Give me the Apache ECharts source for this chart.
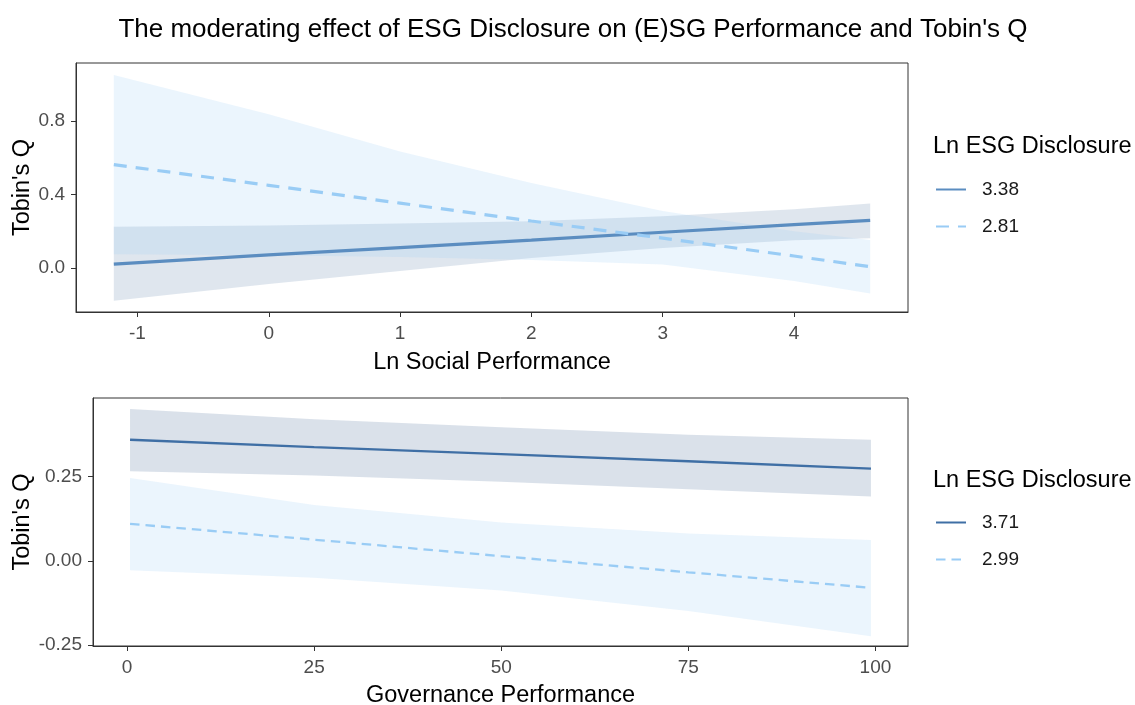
<!DOCTYPE html>
<html><head><meta charset="utf-8">
<script src="https://cdn.jsdelivr.net/npm/echarts@6/dist/echarts.min.js"></script>
<style>html,body{margin:0;padding:0;background:#fff}#c{width:1135px;height:705px}</style>
</head><body><div id="c"></div>
<script>
// ---------- Top panel: Ln Social Performance ----------
const socialX      = [-1.18, 0, 1, 2, 3, 4, 4.58];
const social338    = [0.022, 0.072, 0.112, 0.152, 0.195, 0.236, 0.26];
const social338Lo  = [-0.177, -0.086, -0.015, 0.055, 0.11, 0.152, 0.162];
const social338Hi  = [0.225, 0.232, 0.242, 0.255, 0.282, 0.32, 0.351];
const social281    = [0.562, 0.45, 0.353, 0.256, 0.163, 0.066, 0.008];
const social281Lo  = [0.076, 0.07, 0.061, 0.045, 0.02, -0.07, -0.137];
const social281Hi  = [1.049, 0.836, 0.634, 0.463, 0.31, 0.2, 0.153];
const socialXTicks = [-1, 0, 1, 2, 3, 4];
const socialYTicks = [0, 0.4, 0.8];

// ---------- Bottom panel: Governance Performance ----------
const govX         = [0.4, 25, 50, 75, 99.4];
const gov371       = [0.36, 0.338, 0.317, 0.296, 0.274];
const gov371Lo     = [0.266, 0.254, 0.235, 0.213, 0.191];
const gov371Hi     = [0.451, 0.421, 0.397, 0.375, 0.36];
const gov299       = [0.11, 0.063, 0.014, -0.034, -0.08];
const gov299Lo     = [-0.028, -0.05, -0.088, -0.149, -0.224];
const gov299Hi     = [0.246, 0.166, 0.114, 0.081, 0.062];
const govXTicks    = [0, 25, 50, 75, 100];
const govYTicks    = [-0.25, 0, 0.25];

const FONT = "'Liberation Sans', Arial, sans-serif";
const chart = echarts.init(document.getElementById('c'));

function band(name, xs, lo, hi, color, idx) {
  return {
    type: 'custom', name: name, xAxisIndex: idx, yAxisIndex: idx, silent: true, z: 1,
    data: xs.map((x, i) => [x, lo[i], hi[i]]),
    encode: { x: 0, y: [1, 2] },
    renderItem: function (params, api) {
      if (params.dataIndex !== 0) return null;
      const pts = [];
      for (let i = 0; i < xs.length; i++) pts.push(api.coord([xs[i], hi[i]]));
      for (let i = xs.length - 1; i >= 0; i--) pts.push(api.coord([xs[i], lo[i]]));
      return { type: 'polygon', shape: { points: pts }, style: { fill: color } };
    }
  };
}
function line(name, xs, ys, color, width, dash, idx) {
  return {
    type: 'line', name: name, xAxisIndex: idx, yAxisIndex: idx, z: 3,
    data: xs.map((x, i) => [x, ys[i]]),
    symbol: 'none', showSymbol: false, silent: true,
    lineStyle: { color: color, width: width, type: dash || 'solid' },
    itemStyle: { color: color }
  };
}
function xAxis(idx, min, max, ticks, name, gap) {
  return {
    type: 'value', gridIndex: idx, min: min, max: max,
    axisLine: { show: true, onZero: false, lineStyle: { color: '#333', width: 1 } },
    axisTick: { show: true, length: 5, customValues: ticks, lineStyle: { color: '#333' } },
    axisLabel: { customValues: ticks, margin: 12, color: '#4D4D4D', fontSize: 19, fontFamily: FONT,
                 formatter: v => String(v) },
    splitLine: { show: false },
    name: name, nameLocation: 'middle', nameGap: gap, nameMoveOverlap: false,
    nameTextStyle: { fontSize: 23.5, color: '#000', fontFamily: FONT }
  };
}
function yAxis(idx, min, max, ticks, dec, gap) {
  return {
    type: 'value', gridIndex: idx, min: min, max: max,
    axisLine: { show: true, onZero: false, lineStyle: { color: '#333', width: 1 } },
    axisTick: { show: true, length: 5, customValues: ticks, lineStyle: { color: '#333' } },
    axisLabel: { customValues: ticks, margin: 11, color: '#4D4D4D', fontSize: 19, fontFamily: FONT,
                 formatter: v => v.toFixed(dec) },
    splitLine: { show: false },
    name: "Tobin's Q", nameLocation: 'middle', nameGap: gap, nameMoveOverlap: false,
    nameTextStyle: { fontSize: 23.5, color: '#000', fontFamily: FONT }
  };
}
const legendBase = {
  orient: 'vertical', itemWidth: 30, itemHeight: 14, itemGap: 18, selectedMode: false,
  itemStyle: { color: 'transparent', borderWidth: 0, opacity: 0 },
  textStyle: { fontSize: 19, color: '#1a1a1a', fontFamily: FONT, padding: [0, 0, 0, 11] }
};

chart.setOption({
  animation: false,
  backgroundColor: '#fff',
  graphic: [
    { type: 'text', x: 573, y: 30, style: { text: "The moderating effect of ESG Disclosure on (E)SG Performance and Tobin's Q",
      textAlign: 'center', textVerticalAlign: 'middle', font: "26px " + FONT, fill: '#000' } },
    { type: 'text', x: 933, y: 147, style: { text: 'Ln ESG Disclosure', textAlign: 'left', textVerticalAlign: 'middle',
      font: "23.5px " + FONT, fill: '#000' } },
    { type: 'text', x: 933, y: 481, style: { text: 'Ln ESG Disclosure', textAlign: 'left', textVerticalAlign: 'middle',
      font: "23.5px " + FONT, fill: '#000' } }
  ],
  grid: [
    { left: 76, top: 63, width: 832, height: 249, show: true, borderColor: '#333', borderWidth: 1,
      backgroundColor: 'transparent', containLabel: false, outerBoundsMode: 'none' },
    { left: 93, top: 398, width: 815, height: 248, show: true, borderColor: '#333', borderWidth: 1,
      backgroundColor: 'transparent', containLabel: false, outerBoundsMode: 'none' }
  ],
  xAxis: [
    xAxis(0, -1.468, 4.868, socialXTicks, 'Ln Social Performance', 39),
    xAxis(1, -4.55, 104.35, govXTicks, 'Governance Performance', 38)
  ],
  yAxis: [
    yAxis(0, -0.238, 1.114, socialYTicks, 1, 41),
    yAxis(1, -0.253, 0.484, govYTicks, 2, 58)
  ],
  legend: [
    Object.assign({}, legendBase, { data: ['3.38', '2.81'], left: 930, top: 175 }),
    Object.assign({}, legendBase, { data: ['3.71', '2.99'], left: 930, top: 508 })
  ],
  series: [
    band('band338', socialX, social338Lo, social338Hi, 'rgba(80,115,160,0.18)', 0),
    band('band281', socialX, social281Lo, social281Hi, 'rgba(153,204,245,0.2)', 0),
    line('3.38', socialX, social338, '#5B8DC0', 3.2, null, 0),
    line('2.81', socialX, social281, '#99CCF5', 3.2, [13, 9], 0),
    band('band371', govX, gov371Lo, gov371Hi, 'rgba(70,105,150,0.2)', 1),
    band('band299', govX, gov299Lo, gov299Hi, 'rgba(153,204,245,0.2)', 1),
    line('3.71', govX, gov371, '#3F6FA5', 2.3, null, 1),
    line('2.99', govX, gov299, '#99CCF5', 2.3, [9.5, 6], 1)
  ]
});
</script></body></html>
